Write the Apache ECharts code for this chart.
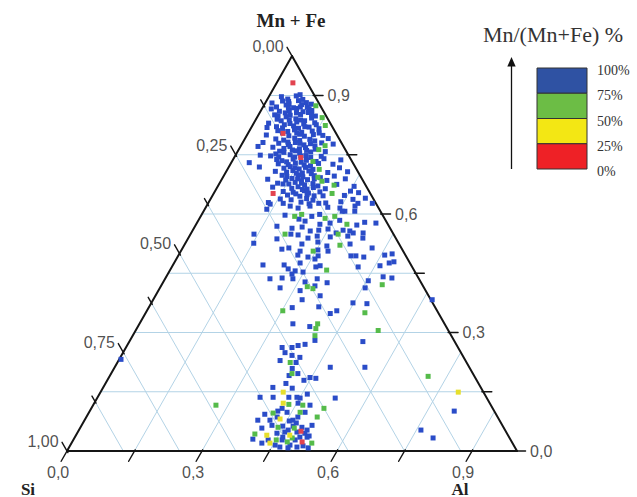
<!DOCTYPE html>
<html><head><meta charset="utf-8">
<script src="https://cdn.jsdelivr.net/npm/echarts@6/dist/echarts.min.js"></script>
<style>html,body{margin:0;padding:0;background:#fff}#c{width:637px;height:497px}</style>
</head><body><div id="c"></div>
<script>
// ---- axis ticks / labels (ternary fractions) ----
const siTickValues = [0,0.125,0.25,0.375,0.5,0.625,0.75,0.875,1];
const siLabelValues = [0,0.25,0.5,0.75,1];
const siLabels = ['0,00','0,25','0,50','0,75','1,00'];
const alTickValues = [0,0.15,0.3,0.45,0.6,0.75,0.9];
const alLabelValues = [0,0.3,0.6,0.9];
const alLabels = ['0,0','0,3','0,6','0,9'];
const mfTickValues = [0,0.15,0.3,0.45,0.6,0.75,0.9];
const mfLabelValues = [0,0.3,0.6,0.9];
const mfLabels = ['0,0','0,3','0,6','0,9'];
const gridMnFe = [0.15,0.3,0.45,0.6,0.75,0.9];
const gridAl = [0.15,0.3,0.45,0.6,0.75,0.9];
const gridSi = [0.125,0.25,0.375,0.5,0.625,0.75,0.875];

// ---- legend ----
const legendLabels = ['100%','75%','50%','25%','0%'];
const legendColors = ['#2f52a3','#6cbd45','#f3e714','#ee2126'];

// ---- samples: [Al, Mn+Fe] fractions, grouped by Mn/(Mn+Fe) class ----
const blue = [
[0.067,0.902],
[0.028,0.897],[0.045,0.891],[0.060,0.899],[0.079,0.890],
[0.015,0.881],[0.036,0.886],[0.054,0.879],[0.071,0.887],[0.091,0.882],[0.104,0.878],
[0.030,0.871],[0.049,0.876],[0.069,0.869],[0.083,0.877],[0.099,0.870],
[0.021,0.866],[0.042,0.860],[0.063,0.862],[0.077,0.867],[0.095,0.859],[0.113,0.862],
[0.036,0.851],[0.057,0.856],[0.071,0.850],[0.093,0.852],[0.108,0.857],[0.128,0.848],
[0.047,0.840],[0.064,0.846],[0.088,0.841],[0.100,0.838],[0.122,0.843],
[0.033,0.830],[0.058,0.836],[0.081,0.829],[0.094,0.833],[0.112,0.828],[0.135,0.831],
[0.055,0.821],[0.070,0.818],[0.092,0.823],[0.106,0.817],[0.128,0.820],[0.141,0.826],
[0.035,0.819],
[0.063,0.811],[0.086,0.809],[0.099,0.813],[0.118,0.807],[0.140,0.810],[0.152,0.816],
[0.043,0.800],[0.094,0.798],[0.116,0.802],[0.129,0.797],[0.147,0.801],[0.169,0.799],
[0.069,0.790],[0.088,0.787],[0.110,0.792],[0.124,0.786],[0.145,0.789],[0.158,0.785],[0.185,0.791],
[0.045,0.781],[0.081,0.779],[0.104,0.776],[0.117,0.781],[0.139,0.775],[0.152,0.778],[0.176,0.780],[0.203,0.777],
[0.039,0.771],[0.073,0.769],[0.099,0.766],[0.110,0.771],[0.134,0.765],[0.146,0.768],[0.170,0.764],
[0.093,0.759],[0.104,0.756],[0.128,0.760],[0.140,0.754],[0.163,0.757],[0.195,0.758],
[0.055,0.749],[0.079,0.747],[0.098,0.745],[0.121,0.750],[0.134,0.744],[0.157,0.748],[0.170,0.743],[0.192,0.746],
[0.097,0.738],[0.110,0.735],[0.133,0.739],[0.164,0.736],[0.187,0.733],[0.201,0.740],[0.240,0.737],
[0.040,0.730],[0.106,0.727],[0.129,0.725],[0.143,0.729],[0.165,0.724],[0.195,0.728],[0.228,0.726],
[0.068,0.719],[0.124,0.716],[0.136,0.720],[0.159,0.714],[0.171,0.718],[0.190,0.713],[0.247,0.717],
[0.109,0.708],[0.135,0.706],[0.147,0.710],[0.171,0.704],[0.183,0.709],[0.227,0.705],[0.270,0.707],
[0.129,0.698],[0.141,0.695],[0.165,0.699],[0.177,0.694],[0.201,0.697],[0.217,0.692],[0.246,0.696],
[0.102,0.688],[0.143,0.686],[0.155,0.690],[0.179,0.684],[0.191,0.687],[0.235,0.685],[0.274,0.689],
[0.129,0.678],[0.155,0.676],[0.167,0.680],[0.191,0.674],[0.208,0.677],[0.262,0.675],
[0.123,0.668],[0.167,0.665],[0.179,0.669],[0.202,0.663],[0.214,0.667],[0.242,0.664],[0.303,0.670],
[0.152,0.657],[0.175,0.655],[0.198,0.659],[0.210,0.653],[0.234,0.656],[0.301,0.658],[0.321,0.654],
[0.166,0.648],[0.195,0.645],[0.209,0.649],[0.246,0.646],[0.293,0.647],
[0.155,0.638],[0.180,0.636],[0.213,0.639],[0.229,0.635],[0.317,0.637],[0.343,0.640],
[0.133,0.629],[0.167,0.627],[0.205,0.630],[0.225,0.626],[0.261,0.628],[0.293,0.631],[0.365,0.627],
[0.050,0.885],[0.083,0.871],[0.058,0.868],[0.105,0.866],[0.082,0.856],[0.118,0.851],[0.045,0.848],[0.075,0.838],[0.110,0.836],
[0.070,0.826],[0.118,0.821],[0.076,0.806],[0.108,0.805],[0.158,0.805],[0.100,0.782],[0.128,0.779],[0.165,0.772],[0.120,0.762],
[0.152,0.761],[0.088,0.752],[0.146,0.747],[0.122,0.732],[0.155,0.731],[0.180,0.722],[0.148,0.717],[0.158,0.703],[0.192,0.702],
[0.168,0.689],[0.205,0.689],[0.142,0.676],[0.182,0.678],[0.192,0.662],[0.222,0.671],[0.183,0.651],[0.226,0.646],
[0.139,0.625],[0.186,0.620],[0.206,0.615],[0.230,0.620],[0.246,0.627],[0.271,0.617],[0.299,0.615],[0.314,0.607],[0.330,0.620],[0.333,0.627],[0.138,0.612],
[0.186,0.597],[0.247,0.594],[0.262,0.599],[0.308,0.607],[0.336,0.607],
[0.222,0.587],[0.238,0.582],[0.275,0.574],[0.296,0.577],[0.314,0.584],[0.358,0.572],[0.372,0.579],[0.398,0.577],
[0.182,0.569],[0.218,0.564],[0.239,0.567],[0.262,0.557],[0.280,0.559],[0.299,0.562],[0.322,0.552],[0.334,0.559],[0.350,0.557],[0.360,0.552],
[0.141,0.549],[0.223,0.549],[0.240,0.547],[0.266,0.539],[0.284,0.544],[0.314,0.542],[0.352,0.544],[0.382,0.552],[0.388,0.539],
[0.152,0.526],[0.198,0.537],[0.236,0.514],[0.260,0.524],[0.293,0.529],[0.318,0.519],[0.327,0.506],[0.367,0.524],[0.222,0.511],[0.265,0.506],[0.303,0.509],[0.421,0.514],
[0.265,0.496],[0.290,0.491],[0.311,0.494],[0.280,0.476],[0.308,0.486],[0.328,0.469],[0.384,0.494],[0.395,0.494],[0.414,0.491],[0.458,0.496],[0.473,0.499],
[0.200,0.471],[0.247,0.471],[0.261,0.461],[0.279,0.456],[0.276,0.448],[0.298,0.453],[0.320,0.466],[0.414,0.466],[0.461,0.469],[0.478,0.476],[0.487,0.479],[0.482,0.441],[0.503,0.438],[0.454,0.431],
[0.233,0.436],[0.259,0.438],[0.284,0.436],[0.315,0.428],[0.338,0.436],[0.365,0.426],
[0.267,0.413],[0.315,0.406],[0.342,0.418],[0.456,0.413],
[0.366,0.393],[0.331,0.383],[0.319,0.363],[0.377,0.365],[0.411,0.348],[0.422,0.355],[0.448,0.375],[0.480,0.373],[0.620,0.383],
[0.341,0.322],[0.382,0.315],[0.519,0.277],[0.347,0.262],[0.369,0.262],[0.380,0.267],[0.394,0.270],
[0.411,0.280],[0.360,0.249],[0.399,0.237],[0.379,0.242],[0.359,0.229],[0.397,0.224],[0.396,0.209],[0.398,0.191],[0.479,0.212],[0.556,0.212],[0.415,0.196],[0.447,0.186],[0.461,0.184],[0.437,0.179],[0.401,0.171],
[0.377,0.161],[0.421,0.159],[0.361,0.136],[0.390,0.136],[0.425,0.136],[0.443,0.136],[0.462,0.144],[0.529,0.134],[0.453,0.121],[0.482,0.116],[0.451,0.134],
[0.480,0.098],[0.393,0.093],[0.424,0.108],[0.440,0.098],[0.424,0.086],[0.463,0.078],[0.470,0.086],[0.412,0.078],[0.456,0.076],[0.418,0.101],[0.385,0.078],[0.474,0.071],
[0.448,0.063],[0.471,0.063],[0.492,0.060],[0.507,0.053],[0.423,0.065],[0.465,0.053],[0.487,0.048],[0.506,0.045],[0.444,0.045],[0.404,0.058],[0.460,0.048],[0.512,0.065],
[0.462,0.035],[0.500,0.035],[0.516,0.035],[0.398,0.030],[0.464,0.028],[0.493,0.028],[0.433,0.028],[0.423,0.020],[0.455,0.015],[0.488,0.015],
[0.468,0.010],[0.487,0.008],[0.506,0.010],[0.518,0.013],[0.519,0.038],[0.532,0.008],
[0.004,0.232],[0.810,0.101],[0.760,0.053],[0.797,0.033]
];
const green = [
[0.116,0.874],[0.145,0.844],[0.162,0.824],[0.187,0.773],[0.178,0.763],[0.180,0.733],[0.204,0.713],[0.211,0.693],[0.225,0.683],[0.257,0.673],[0.263,0.652],
[0.209,0.594],[0.222,0.599],[0.279,0.589],[0.298,0.594],[0.335,0.574],[0.210,0.549],[0.328,0.549],[0.346,0.521],[0.294,0.506],[0.348,0.458],[0.490,0.421],[0.326,0.416],[0.341,0.411],[0.302,0.355],[0.487,0.350],[0.398,0.310],[0.396,0.322],[0.539,0.305],[0.405,0.292],
[0.384,0.224],[0.402,0.196],[0.434,0.118],[0.466,0.116],[0.517,0.108],[0.513,0.086],[0.410,0.096],[0.439,0.060],[0.396,0.043],[0.484,0.033],[0.478,0.023],[0.534,0.020],[0.273,0.116],[0.708,0.189],
[0.476,0.058],[0.451,0.028],[0.469,0.098]
];
const yellow = [[0.406,0.149],[0.420,0.121],[0.433,0.081],[0.424,0.040],[0.441,0.020],[0.795,0.149],[0.475,0.040]];
const red = [[0.036,0.932],[0.078,0.804],[0.148,0.743],[0.132,0.652],[0.495,0.050],[0.511,0.023]];

// ternary (Al, Mn+Fe) -> cartesian of the triangle
function xy(al, mf){ return [al + mf/2, mf]; }

// segments built from ternary values
const gridSegs = [];
gridMnFe.forEach(m => gridSegs.push([...xy(0,m), ...xy(1-m,m)]));
gridAl.forEach(a => gridSegs.push([...xy(a,0), ...xy(a,1-a)]));
gridSi.forEach(s => gridSegs.push([...xy(0,1-s), ...xy(1-s,0)]));
const edgeSegs = [[...xy(0,0), ...xy(1,0)], [...xy(1,0), ...xy(0,1)], [...xy(0,1), ...xy(0,0)]];
const tickSegs = [];
siTickValues.forEach(s => { const L = siLabelValues.includes(s) ? 0.022 : 0.014;
  tickSegs.push([...xy(0.004,1-s-0.004), ...xy(-L,1-s+L)]); });
alTickValues.forEach(a => tickSegs.push([...xy(a,0.003), ...xy(a,-0.026)]));
mfTickValues.forEach(m => { const p = xy(1-m,m); tickSegs.push([p[0]-0.003,p[1],p[0]+0.019,p[1]]); });

function segSeries(data, color, width, z){
  return {type:'custom', coordinateSystem:'cartesian2d', clip:false, silent:true, z:z,
    dimensions:['x1','y1','x2','y2'], encode:{x:[0,2], y:[1,3]}, data:data,
    renderItem:(params, api) => {
      const p1 = api.coord([api.value(0), api.value(1)]);
      const p2 = api.coord([api.value(2), api.value(3)]);
      return {type:'line', shape:{x1:p1[0],y1:p1[1],x2:p2[0],y2:p2[1]}, style:{stroke:color, lineWidth:width, lineCap:'round'}};
    }};
}
const tickFont = {color:'#222', fontSize:16, fontFamily:'"Liberation Sans", Arial, sans-serif'};
function labelSeries(items, position, distance, offset){
  return {type:'scatter', silent:true, clip:false, z:6, symbolSize:1, itemStyle:{color:'rgba(0,0,0,0)'},
    data: items.map(it => ({value: it.v, label:{formatter: it.t}})),
    label:Object.assign({show:true, position, distance, offset}, tickFont)};
}
const leftItems = siLabelValues.map((s,i) => ({v: xy(-0.022, 1-s+0.022), t: siLabels[i]}));
const bottomItems = alLabelValues.map((a,i) => ({v: xy(a,-0.026), t: alLabels[i]}));
const rightItems = mfLabelValues.map((m,i) => { const p = xy(1-m,m); return {v:[p[0]+0.019,p[1]], t: mfLabels[i]}; });

function pts(arr, color){
  return {type:'scatter', symbol:'rect', symbolSize:5, z:4, clip:false, data: arr.map(d => xy(d[0], d[1])),
    itemStyle:{color:color, opacity:1}};
}

const graphic = [
  {type:'text', x:291, y:20, style:{text:'Mn + Fe', font:'bold 19px "Liberation Serif", "Times New Roman", serif', fill:'#222', align:'center', verticalAlign:'middle'}},
  {type:'text', x:28, y:489, style:{text:'Si', font:'bold 17px "Liberation Serif", "Times New Roman", serif', fill:'#222', align:'center', verticalAlign:'middle'}},
  {type:'text', x:460, y:489, style:{text:'Al', font:'bold 17px "Liberation Serif", "Times New Roman", serif', fill:'#222', align:'center', verticalAlign:'middle'}},
  {type:'text', x:553, y:34, style:{text:'Mn/(Mn+Fe) %', font:'22px "Liberation Serif", "Times New Roman", serif', fill:'#333', align:'center', verticalAlign:'middle'}},
  {type:'line', shape:{x1:511.5, y1:169, x2:511.5, y2:64}, style:{stroke:'#111', lineWidth:1.3}},
  {type:'polygon', shape:{points:[[511.5,57],[507.3,66.5],[515.7,66.5]]}, style:{fill:'#111'}}
];
legendColors.forEach((c,i) => graphic.push({type:'rect', shape:{x:537, y:68 + i*25.25, width:50, height:25.25}, style:{fill:c, stroke:'#333', lineWidth:1}}));
legendLabels.forEach((t,i) => graphic.push({type:'text', x:597, y:70.5 + i*25.3, style:{text:t, font:'14px "Liberation Serif", "Times New Roman", serif', fill:'#333', align:'left', verticalAlign:'middle'}}));

const chart = echarts.init(document.getElementById('c'), null, {renderer:'svg'});
chart.setOption({
  animation:false,
  backgroundColor:'#fff',
  grid:{left:67, top:56, width:450, height:395},
  xAxis:{type:'value', min:0, max:1, show:false},
  yAxis:{type:'value', min:0, max:1, show:false},
  graphic: graphic,
  series:[
    segSeries(gridSegs, '#b3d3e6', 1, 1),
    segSeries(edgeSegs, '#151515', 2, 3),
    segSeries(tickSegs, '#151515', 1.4, 3),
    pts(blue, '#2a4cc8'),
    pts(green, '#55bb4a'),
    pts(yellow, '#e6df2c'),
    pts(red, '#e2434f'),
    labelSeries(leftItems, 'left', 3, [0,-1]),
    labelSeries(bottomItems, 'bottom', 3, [-3,0]),
    labelSeries(rightItems, 'right', 4, [0,0])
  ]
});
</script></body></html>
